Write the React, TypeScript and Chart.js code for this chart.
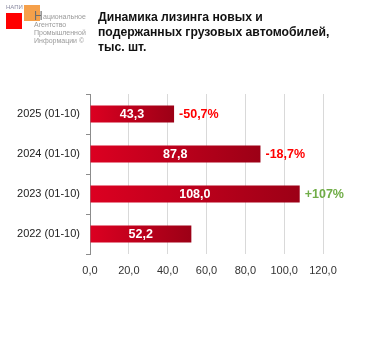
import React, { useEffect, useRef } from "react";
import { Chart, registerables } from "chart.js";

Chart.register(...registerables);

const categories = ["2025 (01-10)", "2024 (01-10)", "2023 (01-10)", "2022 (01-10)"];
const values = [43.3, 87.8, 108.0, 52.2];
const valueLabels = ["43,3", "87,8", "108,0", "52,2"];
const changeLabels = ["-50,7%", "-18,7%", "+107%", ""];
const changeColors = ["#ff0000", "#ff0000", "#70ad47", "#ff0000"];
const xTicks = [0, 20, 40, 60, 80, 100, 120];

const FONT = "'Liberation Sans', Arial, sans-serif";

const labelPlugin = {
  id: "barLabels",
  afterDatasetsDraw(chart: any) {
    const ctx = chart.ctx;
    const meta = chart.getDatasetMeta(0);
    ctx.save();
    meta.data.forEach((el: any, i: number) => {
      const left = chart.scales.x.getPixelForValue(0);
      const cx = (left + el.x) / 2;
      ctx.font = `bold 12.5px ${FONT}`;
      ctx.textAlign = "center";
      ctx.textBaseline = "middle";
      ctx.fillStyle = "#ffffff";
      ctx.fillText(valueLabels[i], cx, el.y + 1);
      if (changeLabels[i]) {
        ctx.textAlign = "left";
        ctx.fillStyle = changeColors[i];
        ctx.fillText(changeLabels[i], el.x + 5, el.y + 1);
      }
    });
    ctx.restore();
  },
};

export default function App() {
  const ref = useRef<HTMLCanvasElement>(null);
  useEffect(() => {
    const canvas = ref.current!;
    const chart = new Chart(canvas, {
      type: "bar",
      data: {
        labels: categories,
        datasets: [
          {
            data: values,
            barPercentage: 0.42,
            categoryPercentage: 1,
            backgroundColor: (c: any) => {
              const ch = c.chart;
              const xs = ch.scales && ch.scales.x;
              if (!xs || c.raw === undefined) return "#c8001c";
              const x0 = xs.getPixelForValue(0);
              const x1 = xs.getPixelForValue(c.raw);
              if (!isFinite(x0) || !isFinite(x1) || x1 <= x0) return "#c8001c";
              const g = ch.ctx.createLinearGradient(x0, 0, x1, 0);
              g.addColorStop(0, "#dc0021");
              g.addColorStop(1, "#9c0016");
              return g;
            },
            borderWidth: 0,
          },
        ],
      },
      options: {
        indexAxis: "y",
        responsive: false,
        animation: false,
        events: [],
        layout: { padding: { left: 0, top: 94, right: 44, bottom: 69 } },
        plugins: { legend: { display: false }, tooltip: { enabled: false }, title: { display: false } },
        scales: {
          x: {
            min: 0,
            max: 120,
            afterFit: (s: any) => {
              s.height = 30;
            },
            afterBuildTicks: (s: any) => {
              s.ticks = xTicks.map((v) => ({ value: v }));
            },
            ticks: {
              padding: 10,
              color: "#333333",
              font: { family: FONT, size: 11 },
              callback: (v: any) => Number(v).toFixed(1).replace(".", ","),
              maxRotation: 0,
            },
            grid: { color: "#d9d9d9", drawTicks: false, lineWidth: 1 },
            border: { display: false },
          },
          y: {
            afterFit: (s: any) => {
              s.width = 90;
            },
            ticks: {
              padding: 6,
              color: "#222222",
              font: { family: FONT, size: 11 },
            },
            grid: {
              drawOnChartArea: false,
              drawTicks: true,
              tickLength: 4,
              color: "#8c8c8c",
              offset: true,
            },
            border: { display: true, color: "#8c8c8c" },
          },
        },
      },
      plugins: [labelPlugin],
    } as any);
    return () => chart.destroy();
  }, []);

  const small: React.CSSProperties = {
    position: "absolute",
    fontFamily: FONT,
    fontSize: 7,
    color: "#9a9a9a",
    lineHeight: "8px",
    whiteSpace: "nowrap",
  };

  return (
    <div style={{ position: "absolute", left: 0, top: 0, width: 367, height: 353, background: "#fff" }}>
      <canvas ref={ref} width={367} height={353} style={{ position: "absolute", left: 0, top: 0 }} />
      <div style={{ position: "absolute", left: 6, top: 13, width: 16, height: 16, background: "#ff0000" }} />
      <div style={{ position: "absolute", left: 24, top: 5, width: 16, height: 16, background: "#f5a04a" }} />
      <div style={{ ...small, left: 6, top: 3, fontSize: 6, color: "#8a8aa0" }}>НАПИ</div>
      <div style={{ ...small, left: 34, top: 10, fontSize: 12, color: "#6e6e6e", lineHeight: "12px" }}>Н</div>
      <div style={{ ...small, left: 43, top: 13 }}>ациональное</div>
      <div style={{ ...small, left: 34, top: 21 }}>
        Агентство
        <br />
        Промышленной
        <br />
        Информации ©
      </div>
      <div
        style={{
          position: "absolute",
          left: 98,
          top: 10,
          fontFamily: FONT,
          fontWeight: "bold",
          fontSize: 12.2,
          lineHeight: "15px",
          color: "#111",
          whiteSpace: "nowrap",
        }}
      >
        Динамика лизинга новых и
        <br />
        подержанных грузовых автомобилей,
        <br />
        тыс. шт.
      </div>
    </div>
  );
}
